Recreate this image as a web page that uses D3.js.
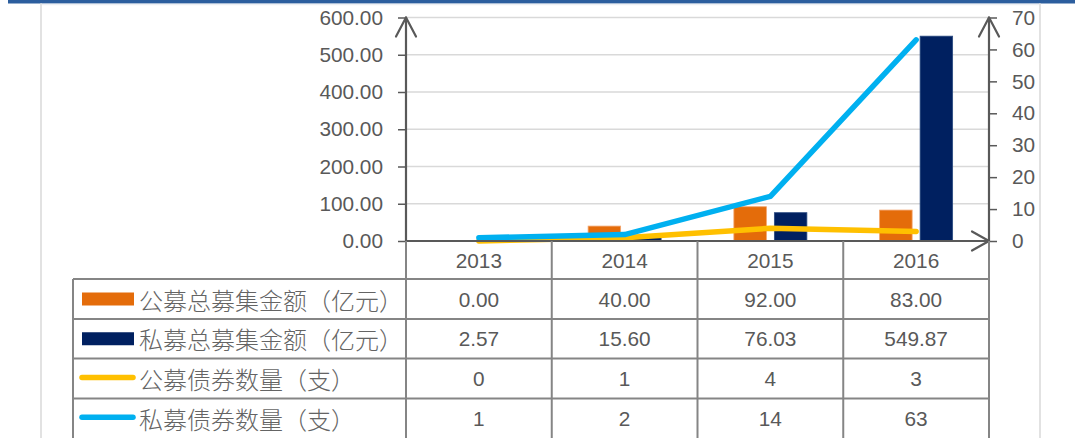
<!DOCTYPE html>
<html>
<head>
<meta charset="utf-8">
<script src="https://cdn.jsdelivr.net/npm/d3@7"></script>
<style>
  html, body { margin: 0; padding: 0; background: #fff; }
  svg { display: block; }
  .num { font-family: "Liberation Sans", Arial, sans-serif; font-size: 20.8px; fill: #595959; }
  .cjk { font-family: "Noto Sans CJK SC", sans-serif; font-size: 24px; font-weight: 300; fill: #646464; }
</style>
</head>
<body>
<svg id="chart" width="1081" height="438"></svg>
<script>
// Bond issuance by year: amounts raised (亿元) and number of bonds (支)
const years = ["2013", "2014", "2015", "2016"];
const publicAmount = [0.00, 40.00, 92.00, 83.00];      // 公募总募集金额（亿元）
const privateAmount = [2.57, 15.60, 76.03, 549.87];    // 私募总募集金额（亿元）
const publicCount = [0, 1, 4, 3];                      // 公募债券数量（支）
const privateCount = [1, 2, 14, 63];                   // 私募债券数量（支）
const leftTicks = [0, 100, 200, 300, 400, 500, 600];
const rightTicks = [0, 10, 20, 30, 40, 50, 60, 70];
const seriesNames = ["公募总募集金额（亿元）", "私募总募集金额（亿元）", "公募债券数量（支）", "私募债券数量（支）"];

const colors = { pubBar: "#E46C0A", privBar: "#002060", pubLine: "#FFC000", privLine: "#00B0F0" };
const axisColor = "#595959", gridColor = "#D9D9D9", tableColor = "#858585";

const svg = d3.select("#chart");

// page frame
svg.append("rect").attr("x", 8).attr("y", 0).attr("width", 1067).attr("height", 3.5).attr("fill", "#2C5E9E");
svg.append("line").attr("x1", 41).attr("x2", 1040).attr("y1", 4.5).attr("y2", 4.5).attr("stroke", "#EEF0F3").attr("stroke-width", 1.5);
[41, 1040].forEach(x => svg.append("line").attr("x1", x).attr("x2", x).attr("y1", 3.5).attr("y2", 438)
  .attr("stroke", "#E2E2E2").attr("stroke-width", 2));

const plot = { left: 406, right: 989, top: 17.5, bottom: 241 };
const x = d3.scaleBand().domain(years).range([plot.left, plot.right]);
const yL = d3.scaleLinear().domain([0, 600]).range([plot.bottom, plot.top]);
const yR = d3.scaleLinear().domain([0, 70]).range([plot.bottom, plot.top]);

// gridlines
svg.append("g").selectAll("line").data(leftTicks.filter(d => d > 0)).join("line")
  .attr("x1", plot.left).attr("x2", plot.right)
  .attr("y1", d => yL(d)).attr("y2", d => yL(d))
  .attr("stroke", gridColor).attr("stroke-width", 1.5);

// bars
const barW = 32.5, gap = 8;
const cx = d => x(d) + x.bandwidth() / 2;
svg.append("g").selectAll("rect").data(years).join("rect")
  .attr("x", d => cx(d) - gap / 2 - barW)
  .attr("y", (d, i) => yL(publicAmount[i]))
  .attr("width", barW)
  .attr("height", (d, i) => yL(0) - yL(publicAmount[i]))
  .attr("fill", colors.pubBar).attr("stroke", "#F2A36A").attr("stroke-width", 0.8);
svg.append("g").selectAll("rect").data(years).join("rect")
  .attr("x", d => cx(d) + gap / 2)
  .attr("y", (d, i) => yL(privateAmount[i]))
  .attr("width", barW)
  .attr("height", (d, i) => yL(0) - yL(privateAmount[i]))
  .attr("fill", colors.privBar).attr("stroke", "#2A4A80").attr("stroke-width", 0.8);

// lines
const line = d3.line().x((d, i) => cx(years[i])).y(d => yR(d));
svg.append("path").datum(publicCount).attr("d", line)
  .attr("fill", "none").attr("stroke", colors.pubLine).attr("stroke-width", 5.5)
  .attr("stroke-linecap", "round").attr("stroke-linejoin", "round");
svg.append("path").datum(privateCount).attr("d", line)
  .attr("fill", "none").attr("stroke", colors.privLine).attr("stroke-width", 5.5)
  .attr("stroke-linecap", "round").attr("stroke-linejoin", "round");

// axes
const left = svg.append("g").attr("transform", `translate(${plot.left},0)`)
  .call(d3.axisLeft(yL).tickValues(leftTicks).tickFormat(d3.format(".2f")).tickSize(8).tickSizeOuter(0).tickPadding(15));
const right = svg.append("g").attr("transform", `translate(${plot.right},0)`)
  .call(d3.axisRight(yR).tickValues(rightTicks).tickFormat(d3.format("d")).tickSize(8).tickSizeOuter(0).tickPadding(15));
[left, right].forEach(g => {
  g.select(".domain").remove();
  g.selectAll(".tick line").attr("stroke", axisColor).attr("stroke-width", 1.5);
  g.selectAll(".tick text").attr("class", "num").attr("font-size", null).attr("font-family", null).attr("fill", null);
});

const axisG = svg.append("g").attr("stroke", axisColor).attr("stroke-width", 2.2).attr("fill", "none")
  .attr("stroke-linecap", "round").attr("stroke-linejoin", "round");
axisG.append("line").attr("x1", plot.left).attr("x2", plot.left).attr("y1", plot.top).attr("y2", plot.bottom);
axisG.append("line").attr("x1", plot.right).attr("x2", plot.right).attr("y1", plot.top).attr("y2", plot.bottom);
axisG.append("line").attr("x1", plot.left).attr("x2", plot.right).attr("y1", plot.bottom).attr("y2", plot.bottom);
// arrow heads
[plot.left, plot.right].forEach(ax => axisG.append("path")
  .attr("d", `M${ax - 10},${plot.top + 19}L${ax},${plot.top}L${ax + 10},${plot.top + 19}`));
axisG.append("path")
  .attr("d", `M${plot.right - 17},${plot.bottom - 9.5}L${plot.right},${plot.bottom}L${plot.right - 17},${plot.bottom + 9.5}`);

// data table
const tableLeft = 73;
const rowY = [241, 279, 319, 358.5, 398.5, 438];
const tbl = svg.append("g").attr("stroke", tableColor).attr("stroke-width", 2);
// column separators
const colEdges = years.map(d => x(d)).concat([plot.right]);
colEdges.forEach(cxv => tbl.append("line").attr("x1", cxv).attr("x2", cxv).attr("y1", rowY[0]).attr("y2", 438));
tbl.append("line").attr("x1", tableLeft).attr("x2", tableLeft).attr("y1", rowY[1]).attr("y2", 438);
rowY.slice(1, 5).forEach(yv => tbl.append("line").attr("x1", tableLeft).attr("x2", plot.right).attr("y1", yv).attr("y2", yv));

const rowMid = i => (rowY[i] + rowY[i + 1]) / 2;
// header years
svg.append("g").selectAll("text").data(years).join("text")
  .attr("class", "num").attr("x", d => cx(d)).attr("y", rowMid(0))
  .attr("text-anchor", "middle").attr("dominant-baseline", "central").text(d => d);

const rows = [
  { vals: publicAmount.map(d3.format(".2f")) },
  { vals: privateAmount.map(d3.format(".2f")) },
  { vals: publicCount.map(String) },
  { vals: privateCount.map(String) }
];
rows.forEach((r, ri) => {
  svg.append("g").selectAll("text").data(r.vals).join("text")
    .attr("class", "num").attr("x", (d, i) => cx(years[i])).attr("y", rowMid(ri + 1))
    .attr("text-anchor", "middle").attr("dominant-baseline", "central").text(d => d);
});

// legend keys and series names
const keyX = 82, keyW = 52;
svg.append("rect").attr("x", keyX).attr("y", rowMid(1) - 6.5).attr("width", keyW).attr("height", 13).attr("fill", colors.pubBar);
svg.append("rect").attr("x", keyX).attr("y", rowMid(2) - 6.5).attr("width", keyW).attr("height", 13).attr("fill", colors.privBar);
svg.append("line").attr("x1", 82).attr("x2", 133).attr("y1", rowMid(3) - 1).attr("y2", rowMid(3) - 1)
  .attr("stroke", colors.pubLine).attr("stroke-width", 5.5).attr("stroke-linecap", "round");
svg.append("line").attr("x1", 82).attr("x2", 133).attr("y1", rowMid(4) - 1).attr("y2", rowMid(4) - 1)
  .attr("stroke", colors.privLine).attr("stroke-width", 5.5).attr("stroke-linecap", "round");
seriesNames.forEach((n, i) => svg.append("text").attr("class", "cjk")
  .attr("x", 139).attr("y", rowMid(i + 1)).attr("dominant-baseline", "central").text(n));
</script>
</body>
</html>
